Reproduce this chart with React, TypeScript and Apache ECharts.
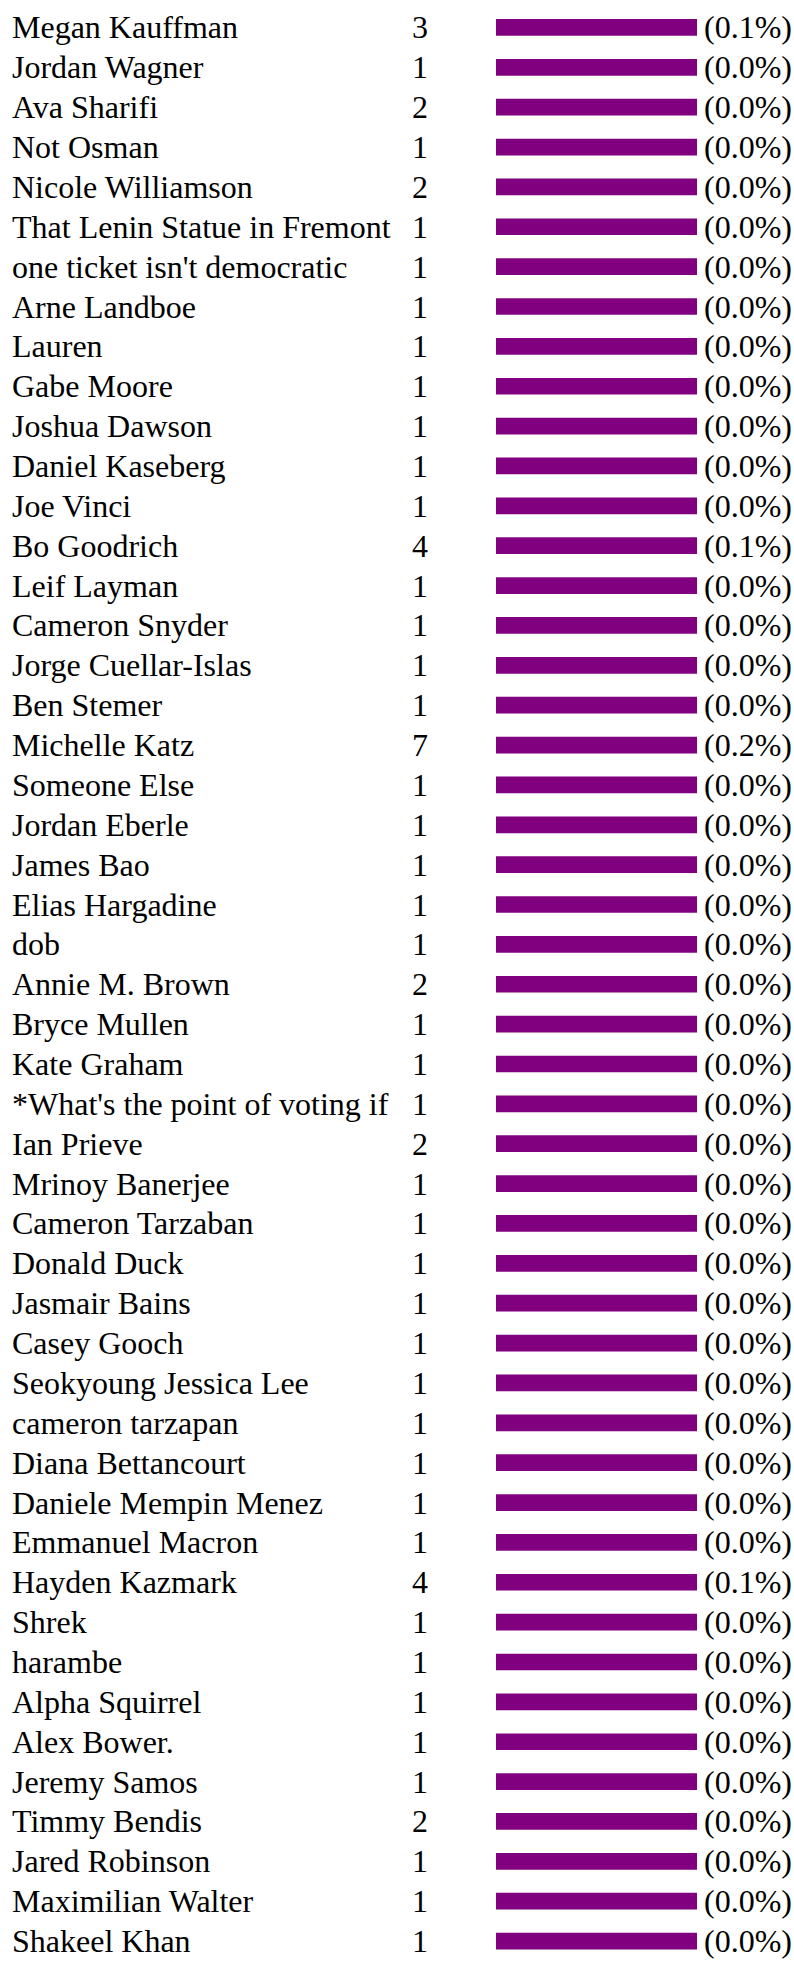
import React, { useEffect, useRef } from "react";
import * as echarts from "echarts";

const names: string[] = [
  "Megan Kauffman",
  "Jordan Wagner",
  "Ava Sharifi",
  "Not Osman",
  "Nicole Williamson",
  "That Lenin Statue in Fremont",
  "one ticket isn't democratic",
  "Arne Landboe",
  "Lauren",
  "Gabe Moore",
  "Joshua Dawson",
  "Daniel Kaseberg",
  "Joe Vinci",
  "Bo Goodrich",
  "Leif Layman",
  "Cameron Snyder",
  "Jorge Cuellar-Islas",
  "Ben Stemer",
  "Michelle Katz",
  "Someone Else",
  "Jordan Eberle",
  "James Bao",
  "Elias Hargadine",
  "dob",
  "Annie M. Brown",
  "Bryce Mullen",
  "Kate Graham",
  "*What's the point of voting if",
  "Ian Prieve",
  "Mrinoy Banerjee",
  "Cameron Tarzaban",
  "Donald Duck",
  "Jasmair Bains",
  "Casey Gooch",
  "Seokyoung Jessica Lee",
  "cameron tarzapan",
  "Diana Bettancourt",
  "Daniele Mempin Menez",
  "Emmanuel Macron",
  "Hayden Kazmark",
  "Shrek",
  "harambe",
  "Alpha Squirrel",
  "Alex Bower.",
  "Jeremy Samos",
  "Timmy Bendis",
  "Jared Robinson",
  "Maximilian Walter",
  "Shakeel Khan",
];

const counts: number[] = [
  3, 1, 2, 1, 2, 1, 1, 1, 1, 1, 1, 1, 1, 4, 1, 1, 1, 1, 7, 1, 1, 1, 1, 1, 2,
  1, 1, 1, 2, 1, 1, 1, 1, 1, 1, 1, 1, 1, 1, 4, 1, 1, 1, 1, 1, 2, 1, 1, 1,
];

const percents: string[] = [
  "0.1", "0.0", "0.0", "0.0", "0.0", "0.0", "0.0", "0.0", "0.0", "0.0",
  "0.0", "0.0", "0.0", "0.1", "0.0", "0.0", "0.0", "0.0", "0.2", "0.0",
  "0.0", "0.0", "0.0", "0.0", "0.0", "0.0", "0.0", "0.0", "0.0", "0.0",
  "0.0", "0.0", "0.0", "0.0", "0.0", "0.0", "0.0", "0.0", "0.0", "0.1",
  "0.0", "0.0", "0.0", "0.0", "0.0", "0.0", "0.0", "0.0", "0.0",
];

// Displayed bar length (percent of the bar track) — every row is drawn full in the picture
const barLengths: number[] = [
  100, 100, 100, 100, 100, 100, 100, 100, 100, 100,
  100, 100, 100, 100, 100, 100, 100, 100, 100, 100,
  100, 100, 100, 100, 100, 100, 100, 100, 100, 100,
  100, 100, 100, 100, 100, 100, 100, 100, 100, 100,
  100, 100, 100, 100, 100, 100, 100, 100, 100,
];

const FONT = "'Liberation Serif', 'Times New Roman', Times, serif";
const FONT_SIZE = 32;
const ROW_H = 40.04;

export default function App() {
  const ref = useRef<HTMLDivElement>(null);

  useEffect(() => {
    if (!ref.current) return;
    const chart = echarts.init(ref.current, undefined, { renderer: "svg" });
    const gridLeft = 496;
    const labelStyle = {
      fontFamily: FONT,
      fontSize: FONT_SIZE,
      color: "#000",
      align: "left" as const,
      interval: 0,
      padding: [0, 0, 6, 0],
    };
    chart.setOption({
      animation: false,
      backgroundColor: "#fff",
      grid: {
        left: gridLeft,
        width: 201,
        top: 7.5,
        height: ROW_H * names.length,
      },
      xAxis: {
        type: "value",
        min: 0,
        max: 100,
        show: false,
      },
      yAxis: [
        {
          type: "category",
          inverse: true,
          data: names,
          position: "left",
          axisLine: { show: false },
          axisTick: { show: false },
          splitLine: { show: false },
          axisLabel: { ...labelStyle, margin: gridLeft - 12 },
        },
        {
          type: "category",
          inverse: true,
          data: names,
          position: "left",
          axisLine: { show: false },
          axisTick: { show: false },
          splitLine: { show: false },
          axisLabel: {
            ...labelStyle,
            margin: gridLeft - 412,
            formatter: (_v: string, i: number) => String(counts[i]),
          },
        },
      ],
      series: [
        {
          type: "bar",
          yAxisIndex: 0,
          data: barLengths,
          barWidth: 16.7,
          itemStyle: { color: "#800080" },
          label: {
            show: true,
            position: "right",
            distance: 7,
            fontFamily: FONT,
            fontSize: FONT_SIZE,
            color: "#000",
            padding: [0, 0, 6, 0],
            formatter: (p: any) => `(${percents[p.dataIndex]}%)`,
          },
        },
      ],
    });
    return () => chart.dispose();
  }, []);

  return (
    <div
      ref={ref}
      style={{ position: "absolute", left: 0, top: 0, width: 794, height: 1961 }}
    />
  );
}
